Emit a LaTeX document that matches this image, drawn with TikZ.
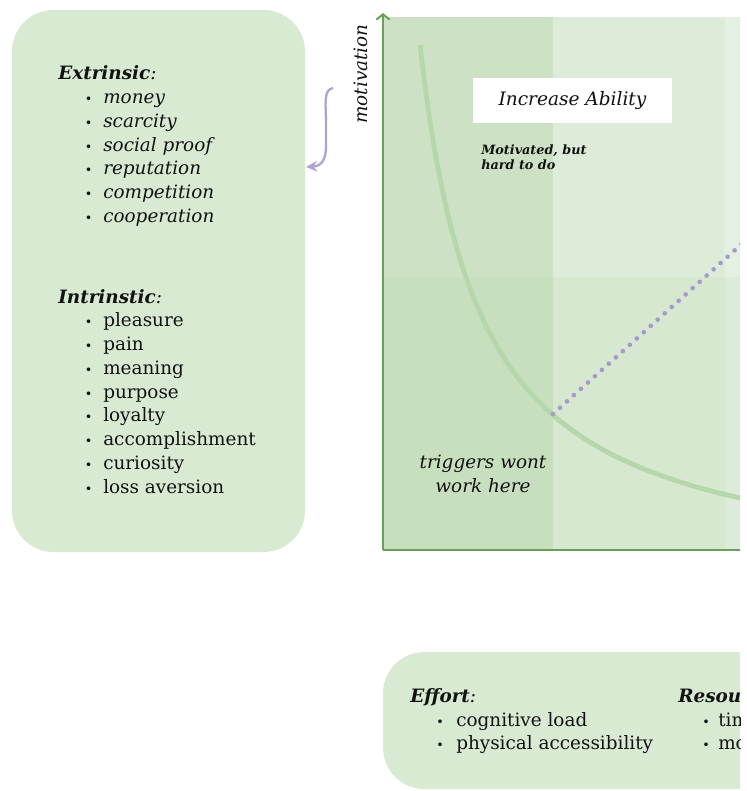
\documentclass[tikz,border=0pt]{standalone}
\usepackage{fontspec}
\setmainfont{DejaVu Serif}
\usetikzlibrary{arrows.meta}
\definecolor{boxgreen}{RGB}{217,234,211}
\definecolor{qtl}{RGB}{205,226,197}
\definecolor{qbl}{RGB}{199,223,191}
\definecolor{qtr}{RGB}{221,236,216}
\definecolor{qbr}{RGB}{214,232,208}
\definecolor{qst}{RGB}{228,240,225}
\definecolor{qsb}{RGB}{221,235,218}
\definecolor{curvegreen}{RGB}{182,215,170}
\definecolor{axisgreen}{RGB}{108,160,88}
\definecolor{lilac}{RGB}{176,160,212}
\definecolor{dotlilac}{RGB}{168,152,208}
\definecolor{ink}{RGB}{18,18,18}
\tikzset{
  lbl/.style={anchor=base west, inner sep=0pt, text=ink, font=\fontsize{13.8}{16}\selectfont},
  ilbl/.style={lbl, font=\fontsize{13.8}{16}\selectfont\itshape},
  hdr/.style={lbl, font=\fontsize{13.8}{16}\selectfont\itshape},
  bul/.style={anchor=base west, inner sep=0pt, text=ink, font=\fontsize{9.5}{10}\selectfont},
  greenbox/.style={fill=boxgreen, rounded corners=31pt},
  curveline/.style={draw=curvegreen, line width=3.6pt},
  dots/.style={draw=dotlilac, line width=3.5pt, line cap=round, dash pattern=on 0pt off 7.05pt},
  axisline/.style={draw=axisgreen, line width=1.5pt},
  parrow/.style={draw=lilac, line width=1.7pt, -{Stealth[length=8.5pt,width=8pt,inset=3pt]}},
}
\begin{document}
\begin{tikzpicture}[x=0.75pt,y=-0.75pt]
\useasboundingbox (0,0) rectangle (746,791);

% ---------- left box ----------
\path[greenbox] (12,10) rectangle (305,552);
\node[hdr] (exh) at (58,80) {{\bfseries Extrinsic}:};
\foreach \t [count=\i] in {money,scarcity,social proof,reputation,competition,cooperation}{
  \node[bul] (exb\i) at (84.5,{80+23.75*\i}) {•};
  \node[ilbl] (ex\i) at (103,{80+23.75*\i}) {\t};
}
\node[hdr] (inh) at (58,303) {{\bfseries Intrinstic}:};
\foreach \t [count=\i] in {pleasure,pain,meaning,purpose,loyalty,accomplishment,curiosity,loss aversion}{
  \node[bul] (inb\i) at (84.5,{303+23.75*\i}) {•};
  \node[lbl] (in\i) at (103,{303+23.75*\i}) {\t};
}

% ---------- purple arrow ----------
\coordinate (arS) at (333,88);
\coordinate (arE) at (306,167);
\draw[parrow] (arS) .. controls (323,90) and (326,104) .. (326,124) -- (326,146) .. controls (326,161) and (321,166) .. (arE);

% ---------- y label ----------
\node[ilbl, anchor=base, rotate=90] (ylab) at (367,74) {motivation};

% ---------- chart ----------
\begin{scope}
\clip (0,0) rectangle (740,791);
\fill[qtl] (383,17) rectangle (553,277);
\fill[qbl] (383,277) rectangle (553,550);
\fill[qtr] (553,17) rectangle (725,277);
\fill[qbr] (553,277) rectangle (725,550);
\fill[qst] (725,17) rectangle (745,277);
\fill[qsb] (725,277) rectangle (745,550);

\draw[curveline] plot[domain=420:745, samples=80, smooth] (\x,{584-327.28/((\x-359.3)/100)});
\coordinate (dA) at (553,414);
\coordinate (dB) at (745,241);
\draw[dots] (dA) -- (dB);

\coordinate (o) at (383,550);
\coordinate (ytop) at (383,13);
\coordinate (xend) at (760,550);
\draw[axisline] (o) -- (xend);
\draw[axisline, -{Straight Barb[length=4pt,width=10pt]}] (o) -- (ytop);

\node[fill=white, minimum width=149pt, minimum height=34pt, inner sep=0pt,
      font=\fontsize{13.9}{18}\selectfont\itshape, text=ink] (inc) at (572.5,100.5) {Increase Ability};
\node[lbl, font=\fontsize{9.6}{11}\selectfont\bfseries\itshape] (mot1) at (481,155) {Motivated, but};
\node[lbl, font=\fontsize{9.6}{11}\selectfont\bfseries\itshape] (mot2) at (481,170) {hard to do};
\node[ilbl, anchor=base] (trg1) at (483,468) {triggers wont};
\node[ilbl, anchor=base] (trg2) at (483,492) {work here};

% ---------- bottom box ----------
\path[greenbox] (383,652) rectangle (820,789);
\node[hdr] (efh) at (410,702) {{\bfseries Effort}:};
\node[bul] (efb1) at (436,726) {•};
\node[lbl] (ef1) at (456,726) {cognitive load};
\node[bul] (efb2) at (436,749) {•};
\node[lbl] (ef2) at (456,749) {physical accessibility};
\node[hdr] (rsh) at (678,702) {{\bfseries Resources}:};
\node[bul] (rsb1) at (702,726) {•};
\node[lbl] (rs1) at (718,726) {time};
\node[bul] (rsb2) at (702,749) {•};
\node[lbl] (rs2) at (718,749) {money};
\end{scope}
\end{tikzpicture}
\end{document}
